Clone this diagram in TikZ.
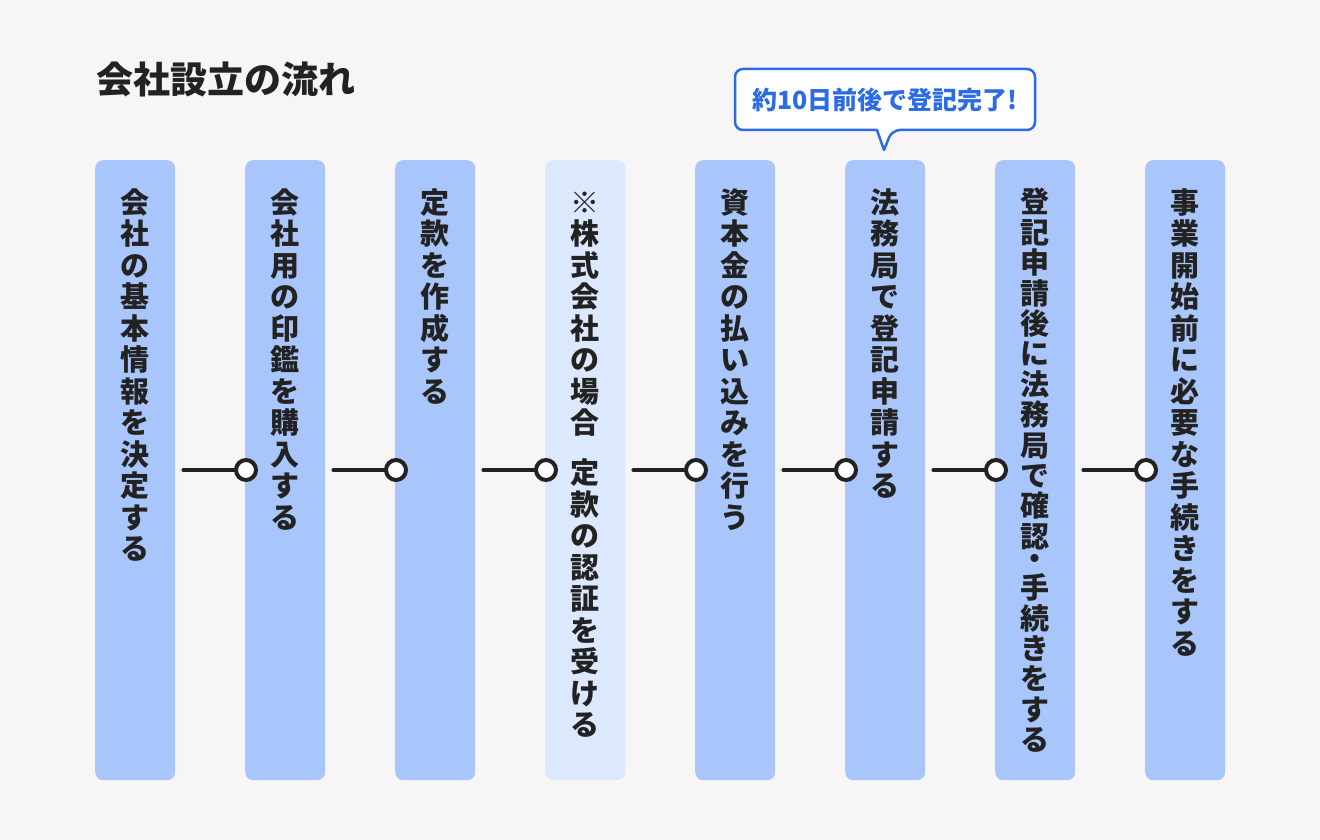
\documentclass[tikz,border=0pt]{standalone}
\usepackage{fontspec}
\setmainfont{Noto Sans CJK JP}
\definecolor{bg}{HTML}{F7F5F6}
\definecolor{barblue}{HTML}{A9C6FC}
\definecolor{barlight}{HTML}{DCE8FD}
\definecolor{ink}{HTML}{222222}
\definecolor{callblue}{HTML}{2C6BE6}
\newlength\vpitch
\def\zsp{}
\def\nak{・}
\def\vsaux#1{\ifx#1\relax\else
  \ifx#1\zsp\vbox to 18.5pt{}\else
  \ifx#1\nak\vbox to 21pt{\vss\hbox to 40pt{\hss\vrule height .5em depth 0pt width 0pt ・\hss}\vss}\else
  \vbox to\vpitch{\vss\hbox to 40pt{\hss\vrule height .88em depth .12em width 0pt #1\hss}\vss}\fi\fi
  \expandafter\vsaux\fi}
\newcommand\vstack[2][31.5pt]{\vpitch=#1\relax\vbox{\offinterlineskip\vsaux#2\relax}}
\tikzset{
  bar/.style={rectangle, rounded corners=8pt, minimum width=80pt, minimum height=620pt, inner sep=0pt, fill=barblue, anchor=north west},
  barl/.style={bar, fill=barlight},
  vtext/.style={anchor=north, inner sep=0pt, text=ink, font=\fontsize{29}{29}\selectfont\bfseries},
  dot/.style={circle, draw=ink, line width=4pt, fill=white, minimum size=20pt, inner sep=0pt},
  conn/.style={draw=ink, line width=4pt, line cap=round},
  callout/.style={draw=callblue, line width=2.5pt, fill=white, line join=round},
}
\begin{document}
\begin{tikzpicture}[x=1pt,y=-1pt]
\fill[bg] (0,0) rectangle (1320,840);
\useasboundingbox (0,0) rectangle (1320,840);
\node[anchor=west, inner sep=0pt, text=ink, font=\fontsize{37}{37}\selectfont\bfseries] (title) at (96,79) {会社設立の流れ};
% bars
\node[bar]  (b1) at (95,160) {};
\node[bar]  (b2) at (245,160) {};
\node[bar]  (b3) at (395,160) {};
\node[barl] (b4) at (545,160) {};
\node[bar]  (b5) at (695,160) {};
\node[bar]  (b6) at (845,160) {};
\node[bar]  (b7) at (995,160) {};
\node[bar]  (b8) at (1145,160) {};
% texts
\node[vtext] (t1) at ([yshift=-26.5pt]b1.north) {\vstack{会社の基本情報を決定する}};
\node[vtext] (t2) at ([yshift=-26.5pt]b2.north) {\vstack{会社用の印鑑を購入する}};
\node[vtext] (t3) at ([yshift=-26.5pt]b3.north) {\vstack{定款を作成する}};
\node[vtext] (t4) at ([yshift=-26.5pt]b4.north) {\vstack{※株式会社の場合\zsp 定款の認証を受ける}};
\node[vtext] (t5) at ([yshift=-26.5pt]b5.north) {\vstack{資本金の払い込みを行う}};
\node[vtext] (t6) at ([yshift=-26.5pt]b6.north) {\vstack{法務局で登記申請する}};
\node[vtext] (t7) at ([yshift=-26.5pt]b7.north) {\vstack[30.4pt]{登記申請後に法務局で確認\nak 手続きをする}};
\node[vtext] (t8) at ([yshift=-26.5pt]b8.north) {\vstack{事業開始前に必要な手続きをする}};
% connectors
\foreach \i/\j in {1/2,2/3,3/4,4/5,5/6,6/7,7/8}{
  \coordinate (s\j) at ([xshift=8pt]b\i.east |- 0,470);
  \node[dot] (c\j) at ([xshift=1pt]b\j.west |- 0,470) {};
  \draw[conn] (s\j) -- (c\j.west);
}
% callout
\coordinate (tip) at (884,150);
\draw[callout] (877,130) [rounded corners=8pt] -- (735,130) -- (735,69) -- (1035,69) -- (1035,130) -- (892,130) [sharp corners] -- (tip) -- cycle;
\node[inner sep=0pt, text=callblue, font=\fontsize{25}{25}\selectfont\bfseries] (call) at (885,100) {約10日前後で登記完了!};
\end{tikzpicture}
\end{document}
